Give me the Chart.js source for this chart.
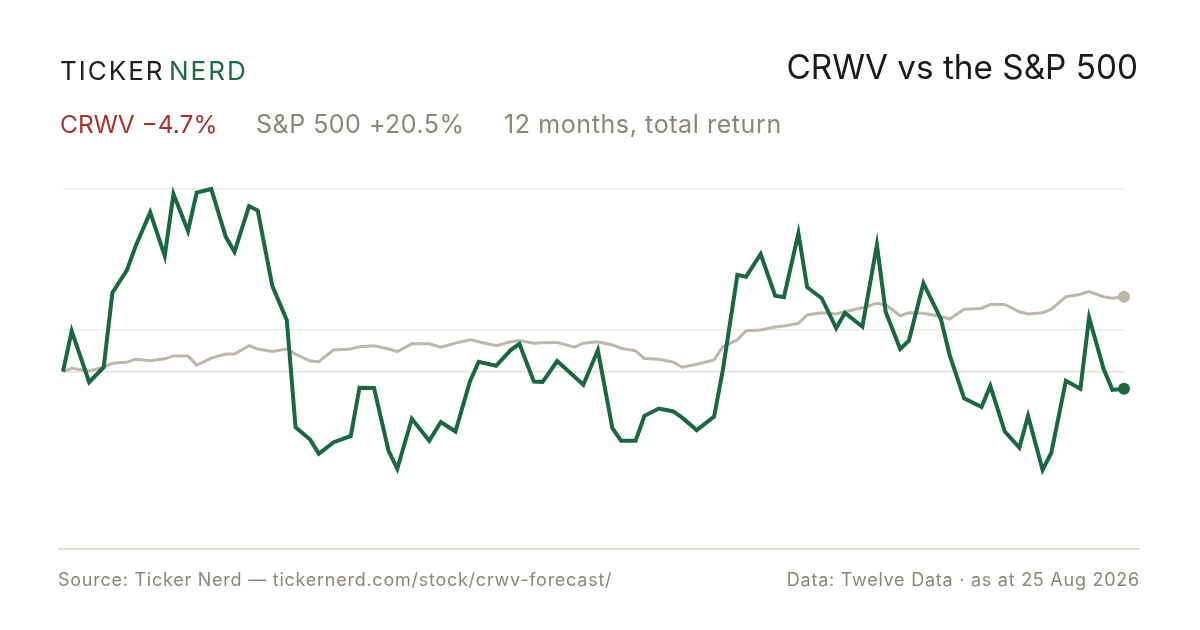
<!DOCTYPE html>
<html>
<head>
<meta charset="utf-8">
<script src="https://cdn.jsdelivr.net/npm/chart.js@4.4.1/dist/chart.umd.min.js"></script>
<style>
  html, body { margin: 0; padding: 0; background: #fff; }
  body { width: 1200px; height: 630px; position: relative; overflow: hidden; font-family: Inter, "Liberation Sans", sans-serif; }
  .abs { position: absolute; white-space: nowrap; line-height: 1; }
  .brand { top: 58px; font-size: 26px; letter-spacing: 2px; }
  #ticker { left: 60px; color: #1f1f1f; }
  #nerd { left: 169px; color: #1d6b45; }
  #title { right: 62px; top: 50.5px; font-size: 33.3px; color: #1a1a1a; }
  .sub { top: 111.5px; font-size: 25px; color: #8b8677; }
  #subCrwv { left: 60px; font-size: 24.5px; color: #a8302a; }
  #subSpx { left: 256px; letter-spacing: 0.5px; }
  #subPeriod { left: 504px; letter-spacing: 0.6px; }
  #rule { position: absolute; left: 58px; top: 548px; width: 1082px; height: 2px; background: #e2dfd5; }
  .foot { top: 570.5px; font-size: 18px; letter-spacing: 0.75px; color: #8b8677; }
  #src { left: 58px; }
  #data { right: 60px; }
  #wrap { position: absolute; left: 0; top: 0; width: 1200px; height: 630px; }
</style>
</head>
<body>
<div id="wrap"><canvas id="chart" width="1200" height="630"></canvas></div>
<div class="abs brand" id="ticker">TICKER</div>
<div class="abs brand" id="nerd">NERD</div>
<div class="abs" id="title">CRWV vs the S&amp;P 500</div>
<div class="abs sub" id="subCrwv">CRWV −4.7%</div>
<div class="abs sub" id="subSpx">S&amp;P 500 +20.5%</div>
<div class="abs sub" id="subPeriod">12 months, total return</div>
<div id="rule"></div>
<div class="abs foot" id="src">Source: Ticker Nerd — tickernerd.com/stock/crwv-forecast/</div>
<div class="abs foot" id="data">Data: Twelve Data · as at 25 Aug 2026</div>
<script>
// calendar days since 25 Aug 2025, one sample every third trading day
const dayOffsets = [0, 3, 9, 14, 17, 22, 25, 30, 35, 38,
  43, 46, 51, 56, 59, 64, 67, 72, 77, 80,
  85, 88, 93, 99, 102, 107, 112, 115, 120, 126,
  130, 135, 140, 143, 149, 154, 157, 162, 165, 170,
  176, 179, 184, 189, 192, 197, 200, 205, 210, 213,
  218, 224, 227, 232, 235, 240, 245, 248, 253, 256,
  261, 266, 269, 275, 280, 283, 288, 291, 296, 302,
  305, 310, 316, 319, 324, 329, 332, 337, 340, 345,
  350, 353, 358, 361, 365];

// total return, %
const crwvReturn = [0, 11.1, -2.9, 1.2, 21.6, 27.8, 34.4, 43.6, 31.7, 48.6,
  38.5, 49.0, 50.0, 36.9, 32.8, 45.3, 44.1, 23.5, 14.1, -15.2,
  -18.6, -22.5, -19.4, -17.6, -4.4, -4.5, -21.7, -26.6, -12.9, -18.9,
  -13.8, -16.4, -2.7, 2.7, 1.6, 5.9, 7.6, -2.7, -2.8, 2.9,
  -1.4, -3.6, 5.9, -15.5, -18.9, -18.9, -12.1, -10.1, -10.9, -12.6,
  -16.0, -12.3, 0.5, 26.5, 26.0, 32.2, 20.8, 20.4, 37.9, 23.1,
  20.1, 11.9, 16.1, 12.3, 34.7, 16.4, 6.2, 8.5, 24.2, 14.4,
  4.6, -7.3, -9.7, -3.9, -16.4, -20.8, -12.1, -26.9, -22.2, -2.5,
  -4.7, 14.8, 0.7, -5.0, -4.7];

const spxReturn = [0, 0.9, 0.2, 1.2, 2.3, 2.6, 3.4, 3.0, 3.5, 4.3,
  4.3, 1.8, 3.7, 4.8, 4.8, 7.1, 6.2, 5.5, 6.2, 4.8,
  2.9, 2.7, 5.9, 6.2, 6.8, 7.1, 6.2, 5.5, 7.6, 7.6,
  6.7, 7.8, 8.7, 8.2, 7.1, 8.2, 8.5, 7.8, 7.9, 8.0,
  6.7, 7.8, 8.2, 7.3, 6.4, 5.7, 3.6, 3.4, 2.6, 1.2,
  2.0, 3.2, 6.8, 8.7, 11.2, 11.4, 12.2, 12.5, 13.2, 15.5,
  16.1, 15.8, 16.4, 17.5, 18.7, 18.3, 15.3, 16.1, 16.0, 15.1,
  14.4, 17.1, 17.3, 18.4, 18.4, 16.4, 15.8, 16.1, 17.1, 20.5,
  21.2, 21.9, 20.5, 20.1, 20.5];

const gridValues = [0, 11.4, 50];

const toPoints = (vals) => vals.map((v, i) => ({ x: dayOffsets[i], y: v }));
const lastDot = (r) => (ctx) => ctx.dataIndex === dayOffsets.length - 1 ? r : 0;

const ctx = document.getElementById('chart').getContext('2d');
new Chart(ctx, {
  type: 'line',
  data: {
    datasets: [
      {
        label: 'CRWV',
        data: toPoints(crwvReturn),
        borderColor: '#19683f',
        backgroundColor: '#19683f',
        borderWidth: 4,
        pointRadius: lastDot(6),
        pointBorderWidth: 0,
        tension: 0,
        clip: false,
        order: 0
      },
      {
        label: 'S&P 500',
        data: toPoints(spxReturn),
        borderColor: '#bdb6aa',
        backgroundColor: '#bdb6aa',
        borderWidth: 3,
        pointRadius: lastDot(6),
        pointBorderWidth: 0,
        tension: 0,
        clip: false,
        order: 1
      }
    ]
  },
  options: {
    responsive: false,
    animation: false,
    devicePixelRatio: 1,
    layout: { padding: { left: 63, right: 76, top: 189, bottom: 94 } },
    scales: {
      x: { type: 'linear', min: 0, max: 365, display: false },
      y: {
        min: -45,
        max: 50,
        afterBuildTicks: (scale) => { scale.ticks = gridValues.map(v => ({ value: v })); },
        ticks: { display: false },
        border: { display: false },
        grid: {
          drawTicks: false,
          lineWidth: 1.5,
          color: (c) => c.tick && c.tick.value === 0 ? '#e3e0d6' : '#eeebe5'
        }
      }
    },
    plugins: { legend: { display: false }, tooltip: { enabled: false } }
  }
});
</script>
</body>
</html>
